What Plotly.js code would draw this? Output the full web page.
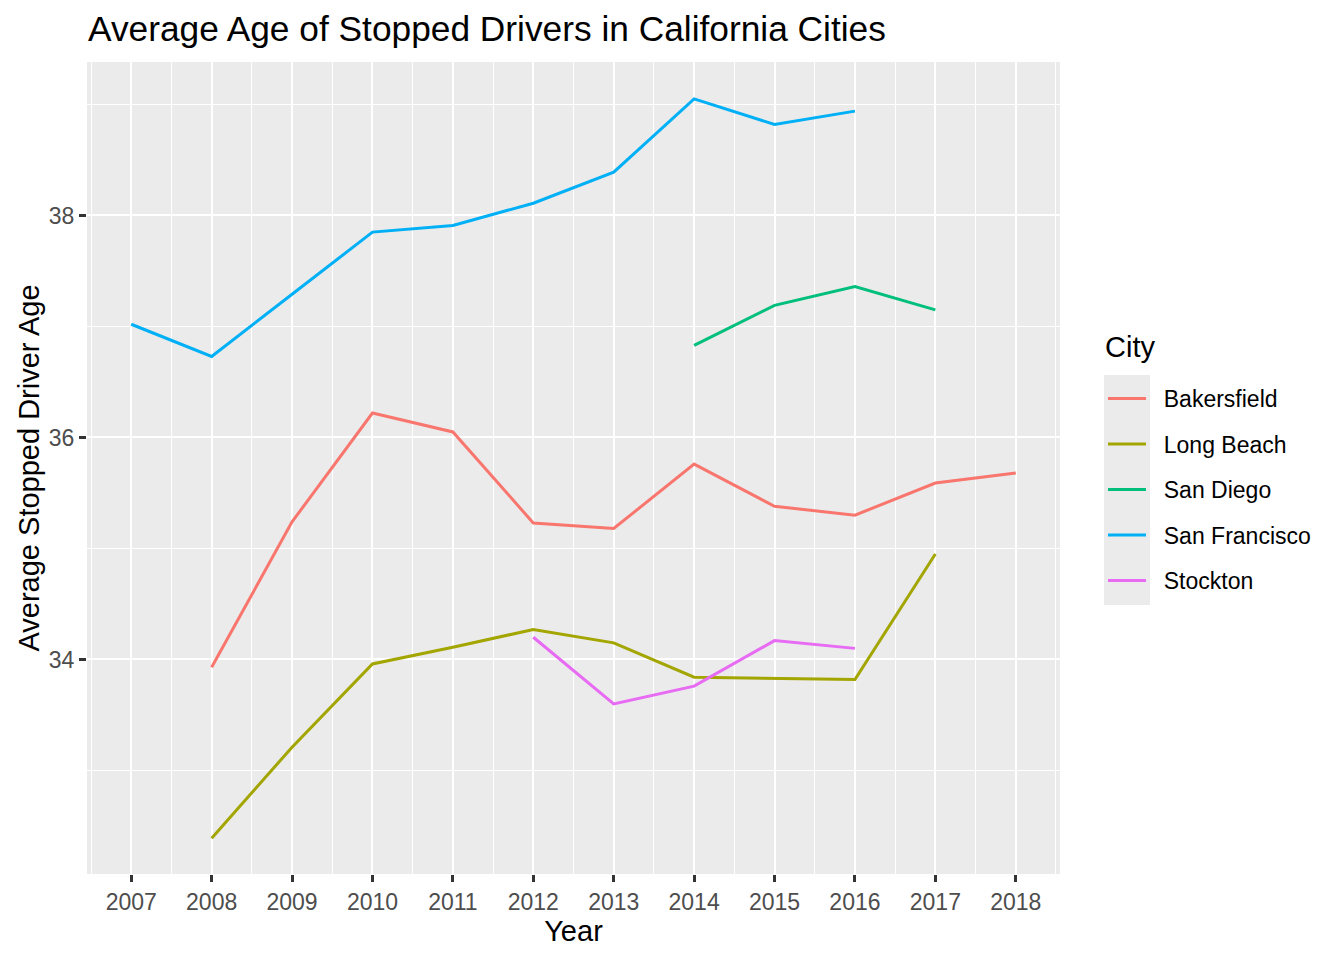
<!DOCTYPE html>
<html>
<head>
<meta charset="utf-8">
<script src="https://cdn.plot.ly/plotly-3.0.1.min.js"></script>
<style>html,body{margin:0;padding:0;background:#fff;}#chart{width:1344px;height:960px;}</style>
</head>
<body>
<div id="chart"></div>
<script>
const years = [2007, 2008, 2009, 2010, 2011, 2012, 2013, 2014, 2015, 2016, 2017, 2018];
const cities = ["Bakersfield", "Long Beach", "San Diego", "San Francisco", "Stockton"];
const bakersfield  = [null, 33.93, 35.24, 36.22, 36.05, 35.23, 35.18, 35.76, 35.38, 35.30, 35.59, 35.68];
const longBeach    = [null, 32.39, 33.21, 33.96, 34.11, 34.27, 34.15, 33.84, 33.83, 33.82, 34.95, null];
const sanDiego     = [null, null, null, null, null, null, null, 36.83, 37.19, 37.36, 37.15, null];
const sanFrancisco = [37.02, 36.73, 37.29, 37.85, 37.91, 38.11, 38.39, 39.05, 38.82, 38.94, null, null];
const stockton     = [null, null, null, null, null, 34.20, 33.60, 33.76, 34.17, 34.10, null, null];
const seriesValues = [bakersfield, longBeach, sanDiego, sanFrancisco, stockton];
const colors = ["#F8766D", "#A3A500", "#00BF7D", "#00B0F6", "#E76BF3"];
const legendTitle = "City";

const FONT = '"Liberation Sans", Arial, Helvetica, sans-serif';

const traces = cities.map((c, i) => ({
  type: 'scatter', mode: 'lines', name: '\u00A0\u00A0' + c,
  x: years, y: seriesValues[i],
  connectgaps: false,
  legendgroup: c,
  line: {color: colors[i], width: 3},
  hovertemplate: c + ': %{y}<extra></extra>'
}));

const layout = {
  width: 1344, height: 960,
  margin: {l: 87, r: 284, t: 62, b: 86},
  paper_bgcolor: '#FFFFFF',
  plot_bgcolor: '#EBEBEB',
  font: {family: FONT, color: '#000000'},
  title: {
    text: 'Average Age of Stopped Drivers in California Cities',
    font: {family: FONT, size: 35.3, color: '#000000'},
    x: 88 / 1344, xref: 'container', xanchor: 'left',
    y: 1 - 29 / 960, yref: 'container', yanchor: 'middle'
  },
  xaxis: {
    range: [2006.45, 2018.55],
    tickmode: 'linear', tick0: 2007, dtick: 1,
    ticks: 'outside', ticklen: 7, tickwidth: 2.5, tickcolor: '#333333',
    tickfont: {family: FONT, size: 23, color: '#4D4D4D'},
    showgrid: true, gridcolor: '#FFFFFF', gridwidth: 2.2,
    minor: {tickmode: 'linear', tick0: 2006.5, dtick: 1, showgrid: true, gridcolor: '#FFFFFF', gridwidth: 1.1, ticklen: 0},
    zeroline: false, showline: false,
    title: {text: 'Year', font: {family: FONT, size: 29, color: '#000000'}, standoff: 6}
  },
  yaxis: {
    range: [32.0675, 39.3825],
    tickmode: 'linear', tick0: 34, dtick: 2,
    ticks: 'outside', ticklen: 7, tickwidth: 2.5, tickcolor: '#333333',
    tickfont: {family: FONT, size: 23, color: '#4D4D4D'},
    showgrid: true, gridcolor: '#FFFFFF', gridwidth: 2.2,
    minor: {tickmode: 'linear', tick0: 33, dtick: 2, showgrid: true, gridcolor: '#FFFFFF', gridwidth: 1.1, ticklen: 0},
    zeroline: false, showline: false,
    title: {text: 'Average Stopped Driver Age', font: {family: FONT, size: 29, color: '#000000'}, standoff: 0}
  },
  showlegend: true,
  legend: {
    x: (1103 - 87) / 973, xanchor: 'left', xref: 'paper',
    y: (874 - 377) / 812, yanchor: 'top', yref: 'paper',
    bgcolor: 'rgba(0,0,0,0)',
    font: {family: FONT, size: 23, color: '#000000'},
    traceorder: 'grouped',
    tracegroupgap: 12.6,
    itemwidth: 38,
    itemclick: false, itemdoubleclick: false
  },
  annotations: [{
    text: legendTitle, xref: 'paper', yref: 'paper',
    x: (1103 - 87) / 973, xanchor: 'left',
    y: (874 - 347) / 812, yanchor: 'middle',
    showarrow: false,
    font: {family: FONT, size: 29, color: '#000000'}
  }],
  shapes: [{
    type: 'rect', xref: 'paper', yref: 'paper',
    x0: (1104 - 87) / 973, x1: (1150 - 87) / 973,
    y0: (874 - 605) / 812, y1: (874 - 375) / 812,
    fillcolor: '#EBEBEB', line: {width: 0}, layer: 'below'
  }]
};

Plotly.newPlot('chart', traces, layout, {displayModeBar: false, responsive: false});
</script>
</body>
</html>
